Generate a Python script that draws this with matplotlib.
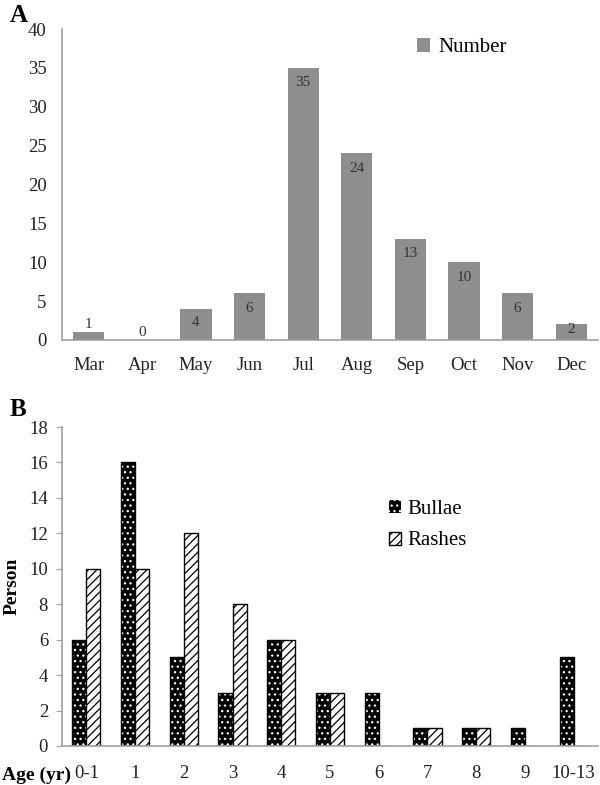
# seasonal and age distribution bar charts

import numpy as np
import matplotlib
matplotlib.use('Agg')
import matplotlib.pyplot as plt

plt.rcParams['font.family'] = ['Liberation Serif', 'DejaVu Serif']

# panel A data
months  = ['Mar', 'Apr', 'May', 'Jun', 'Jul', 'Aug', 'Sep', 'Oct', 'Nov', 'Dec']
number  = [1, 0, 4, 6, 35, 24, 13, 10, 6, 2]

# panel B data
ages    = ['0-1', '1', '2', '3', '4', '5', '6', '7', '8', '9', '10-13']
bullae  = [6, 16, 5, 3, 6, 3, 3, 1, 1, 1, 5]
rashes  = [10, 10, 12, 8, 6, 3, 0, 1, 1, 0, 0]

W, H = 600, 785
fig = plt.figure(figsize=(W/100, H/100), dpi=100)

def px_axes(x0, y_top, x1, y_bot):
    return fig.add_axes([x0/W, 1-y_bot/H, (x1-x0)/W, (y_bot-y_top)/H])

spine_col = '#a0a0a0'
bar_gray  = '#8e8e91'

def style(ax):
    for s in ['top', 'right']:
        ax.spines[s].set_visible(False)
    for s in ['left', 'bottom']:
        ax.spines[s].set_color(spine_col)
        ax.spines[s].set_linewidth(1.2)

# ---- panel A
ax1 = px_axes(62, 29, 598, 340)
style(ax1)
x = np.arange(len(months))
bars = ax1.bar(x, number, width=0.58, color=bar_gray, label='Number')
for xi, v in zip(x, number):
    if v >= 2:
        ty = max(v - 1.9, v/2 + 0.3)
    else:
        ty = v + 1.0
    ax1.text(xi, ty, str(v), ha='center', va='center', fontsize=11, color='#333333')
ax1.set_xlim(-0.5, len(months) - 0.5)
ax1.set_ylim(0, 40)
ax1.set_yticks(range(0, 41, 5))
ax1.set_xticks(x)
ax1.set_xticklabels(months)
ax1.tick_params(axis='both', length=0, labelsize=13.5, colors='#222222')
ax1.tick_params(axis='x', pad=12)
ax1.tick_params(axis='y', pad=11)
ax1.legend(loc='upper left', bbox_to_anchor=(0.628, 1.03), frameon=False, fontsize=15,
           handlelength=0.6, handleheight=0.6, handletextpad=0.4)
fig.text(10/W, 1-15/H, 'A', fontsize=18, fontweight='bold', ha='left', va='center')

# ---- panel B
ax2 = px_axes(62, 427, 598, 746)
style(ax2)
x = np.arange(len(ages))
bw = 0.29
plt.rcParams['hatch.linewidth'] = 0.9
b1 = ax2.bar(x - bw/2, bullae, width=bw, color='black', edgecolor='white', hatch='...',
             linewidth=0, label='Bullae')
ax2.bar(x - bw/2, bullae, width=bw, fill=False, edgecolor='black', linewidth=1.0)
b2 = ax2.bar(x + bw/2, rashes, width=bw, color='white', edgecolor='black', hatch='////',
             linewidth=1.0, label='Rashes')
ax2.set_xlim(-0.5, len(ages) - 0.5)
ax2.set_ylim(0, 18)
ax2.set_yticks(range(0, 19, 2))
ax2.set_xticks(x)
ax2.set_xticklabels(ages)
ax2.tick_params(axis='x', length=0, labelsize=13.5, colors='#222222', pad=14)
ax2.tick_params(axis='y', length=4, labelsize=13.5, colors='#222222', pad=6)
ax2.tick_params(axis='y', color=spine_col)
ax2.set_ylabel('Person', fontsize=14, fontweight='bold', labelpad=6)
ax2.legend(handles=[b1, b2], loc='upper left', bbox_to_anchor=(0.575, 0.83), frameon=False,
           fontsize=15, handlelength=0.6, handleheight=0.6, handletextpad=0.3, labelspacing=0.6)
fig.text(10/W, 1-410/H, 'B', fontsize=18, fontweight='bold', ha='left', va='center')
fig.text(2/W, 1-775/H, 'Age (yr)', fontsize=14, fontweight='bold', ha='left', va='center')

fig.savefig('out.png', dpi=100)
